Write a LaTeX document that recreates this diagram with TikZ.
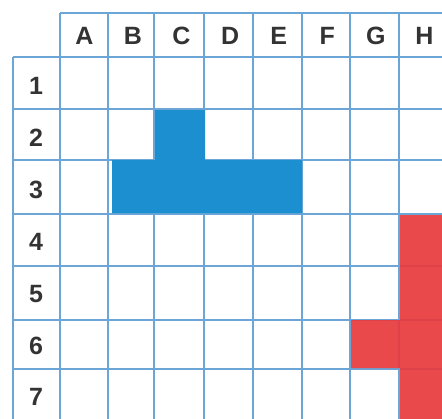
\documentclass[tikz,border=0pt]{standalone}
\usepackage{fontspec}
\setmainfont{Liberation Sans}
\definecolor{gridblue}{HTML}{6BA6D6}
\definecolor{fillblue}{HTML}{1B8FD0}
\definecolor{fillred}{HTML}{E8393C}
\definecolor{labelgray}{HTML}{333333}
\begin{document}
\begin{tikzpicture}[x=1pt,y=-1pt,
  gridline/.style={draw=gridblue,line width=1.3pt},
  lab/.style={text=labelgray,font=\fontsize{25}{25}\selectfont\bfseries,inner sep=0pt,anchor=center}]
\useasboundingbox (0,0) rectangle (442,418);
\begin{scope}
\clip (0,0) rectangle (442,418);
% grid
\def\xs{60,108,154,204,253,302,350,399,448}
\def\ys{57,109,160,214,266,320,369,420}
\draw[gridline] (60,13) -- (450,13);
\foreach \y in \ys {\draw[gridline] (13,\y) -- (450,\y);}
\draw[gridline] (13,57) -- (13,430);
\foreach \x in \xs {\draw[gridline] (\x,13) -- (\x,430);}
% fills
\fill[fillblue] (155,110) -- (205,110) -- (205,160) -- (302,160) -- (302,213)
  -- (112,213) -- (112,160) -- (155,160) -- cycle;
\fill[fillred,opacity=0.92] (400,215) -- (450,215) -- (450,430) -- (400,430)
  -- (400,368) -- (351,368) -- (351,320) -- (400,320) -- cycle;
\end{scope}
% labels
\foreach \l [count=\i] in {A,B,C,D,E,F,G,H}{
  \pgfmathsetmacro{\cx}{60+48.6*(\i-0.5)}
  \node[lab] (col\l) at (\cx,36) {\l};
}
\foreach \l [count=\i] in {1,2,3,4,5,6,7}{
  \pgfmathsetmacro{\cy}{60+51.9*(\i-0.5)}
  \node[lab] (row\l) at (36,\cy) {\l};
}
\end{tikzpicture}
\end{document}
